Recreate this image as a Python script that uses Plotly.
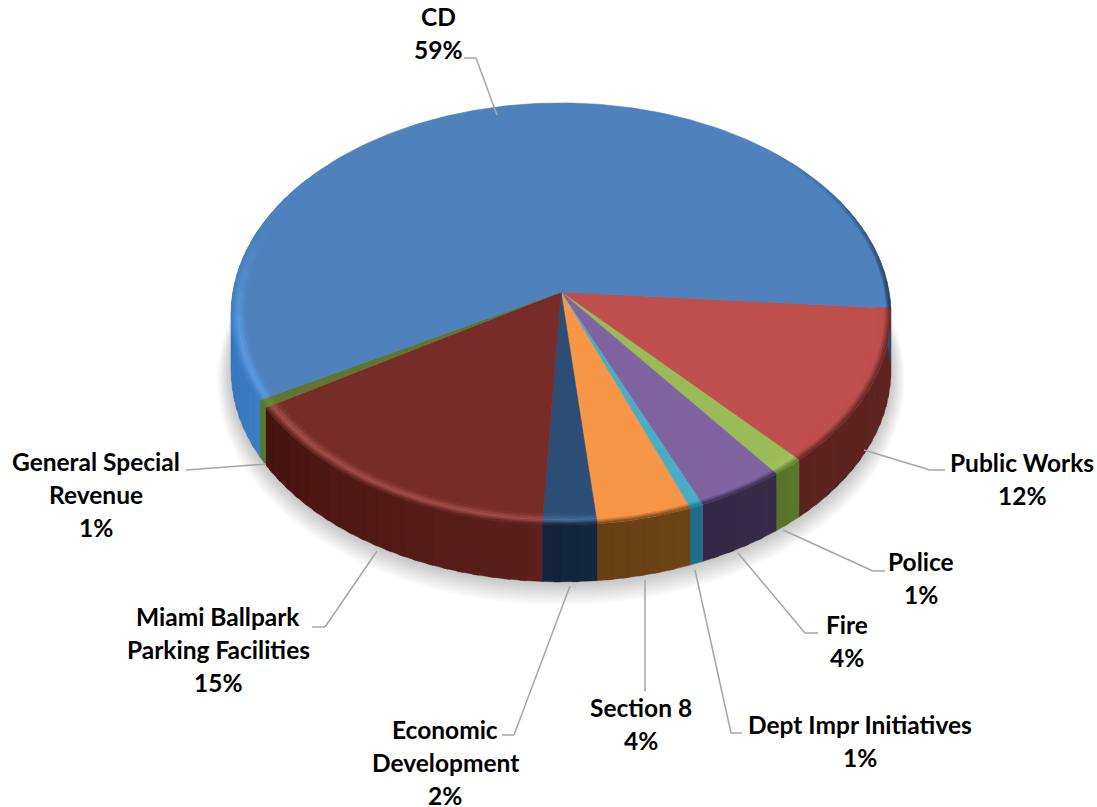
import math
import plotly.graph_objects as go

# ---- data ----
categories = ["Public Works", "Police", "Fire", "Dept Impr Initiatives", "Section 8",
              "Economic Development", "Miami Ballpark Parking Facilities",
              "General Special Revenue", "CD"]
values = [12.1, 1.4, 3.9, 0.6, 4.2, 2.4, 15.4, 0.6, 59.4]
label_lines = [["Public Works"], ["Police"], ["Fire"], ["Dept Impr Initiatives"], ["Section 8"],
               ["Economic", "Development"], ["Miami Ballpark", "Parking Facilities"],
               ["General Special", "Revenue"], ["CD"]]
start_angle = 4.4

# ---- styles ----
face = ["#C0504D", "#9BBB59", "#8064A2", "#4BACC6", "#F79646", "#2C4D75", "#772C2A", "#5F7530", "#4F81BD"]
wall_a = ["#602422", "#5C782B", "#382B48", "#1F6F88", "#6C4315", "#13263C", "#5C201D", "#557A2C", "#3B7CC4"]
wall_b = ["#5C2321", "#587329", "#352844", "#1F6F88", "#673F13", "#122438", "#461210", "#557A2C", "#2C4F78"]
rim = ["#BC4E4B", "#A3C25F", "#8064A2", "#4BACC6", "#F79646", "#4A6F9A", "#A5504D", "#6F8A3A", "#5B9BE0"]
label_pos = [(1022, 462), (921, 561), (847, 624), (860, 724), (641, 707),
             (445, 729), (218, 616), (96, 461), (438, 16)]
leaders = [
    [(864, 450), (930, 470), (945, 470)],
    [(783, 530), (873, 571), (885, 571)],
    [(738, 553), (805, 633), (818, 633)],
    [(695, 570), (731, 733), (742, 733)],
    [(645, 580), (645, 691)],
    [(570, 586), (514, 735), (502, 735)],
    [(377, 551), (325, 627), (312, 627)],
    [(266, 464), (186, 470)],
    [(497, 115), (476, 58), (464, 58)],
]
CX, CY, R, A, P, DEPTH = 561.0, 292.0, 328.0, 208.7, 0.104, 57.0
LINE = 33


def pt(t, r=1.0, dy=0.0, grow=0.0):
    c, s = math.cos(math.radians(t)), math.sin(math.radians(t))
    w = 1 - P * s
    return (CX + (R * r + grow) * c / w, CY + (A * r + grow) * s / w + dy)


def arc(t0, t1, **kw):
    n = max(2, int(abs(t1 - t0) / 1.0) + 1)
    return [pt(t0 + (t1 - t0) * i / (n - 1), **kw) for i in range(n)]


def rgb(h):
    return tuple(int(h[i:i + 2], 16) for i in (1, 3, 5))


def mix(a, b, f):
    ca, cb = rgb(a), rgb(b)
    return "#%02X%02X%02X" % tuple(round(x + (y - x) * f) for x, y in zip(ca, cb))


fig = go.Figure()


def poly(points, color, opacity=1.0, width=0.6):
    xs = [p[0] for p in points] + [points[0][0]]
    ys = [p[1] for p in points] + [points[0][1]]
    fig.add_trace(go.Scatter(x=xs, y=ys, mode="lines", fill="toself", fillcolor=color,
                             opacity=opacity, line=dict(color=color, width=width),
                             hoverinfo="skip", showlegend=False))


# slice angular spans from the values
total = sum(values)
spans = []
t = start_angle
for v in values:
    spans.append((t, t + v / total * 360))
    t = spans[-1][1]

# soft shadow under the disc
for g in range(14, 0, -1):
    poly(arc(0, 360, dy=DEPTH + g * 0.55, grow=g), "#000000", opacity=0.016, width=0)


def wall(t0, t1, c0, c1):
    step = 2.5
    n = max(1, int((t1 - t0) / step))
    for i in range(n):
        a0 = t0 + (t1 - t0) * i / n
        a1 = t0 + (t1 - t0) * (i + 1) / n
        col = mix(c0, c1, (i + 0.5) / n)
        # each piece runs a little under the next one so that no seam shows
        a2 = a1 if i == n - 1 else a1 + 1.0
        poly(arc(a0, a2) + arc(a2, a0, dy=DEPTH), col, width=0.4)


# side walls
for i, (t0, t1) in enumerate(spans):
    if categories[i] == "CD":
        wall(t0, 215, wall_a[i], mix(wall_a[i], wall_b[i], 0.35))
        wall(330, t1, wall_b[i], wall_b[i])
    else:
        wall(t0, t1, wall_a[i], wall_b[i])

# top faces
for i, (t0, t1) in enumerate(spans):
    poly([(CX, CY)] + arc(t0, t1), face[i])

# bevel along the rim
R_STOPS = [0.955, 0.965, 0.975, 0.982, 0.988, 0.993, 0.997, 1.0]


def bevel(i, a0, a1, fade=1.0, r_min=0.0, rim_col=None, wall_col=None):
    rc = rim_col or rim[i]
    wc = wall_col or wall_a[i]
    for k in range(len(R_STOPS) - 1):
        r0, r1 = R_STOPS[k], R_STOPS[k + 1]
        if r0 < r_min:
            continue
        m = (r0 + r1) / 2
        if m < 0.98:
            col = mix(face[i], rc, (m - 0.955) / 0.025)
        else:
            col = mix(rc, wc, (m - 0.98) / 0.02)
        poly(arc(a0, a1, r=r1) + arc(a1, a0, r=r0), mix(face[i], col, fade), width=0.4)


for i, (t0, t1) in enumerate(spans):
    if categories[i] != "CD":
        bevel(i, t0, t1)
        continue
    # highlight on the lower left, fading out up the rim
    bevel(i, t0, 168)
    a = 168.0
    while a < 198:
        bevel(i, a, a + 6, fade=1 - (a + 3 - 168) / 30)
        a += 6
    # dark thin edge on the right, fading in towards the red slice
    a = 315.0
    while a < t1:
        b = min(a + 7, t1)
        bevel(i, a, b, fade=(a + 3.5 - 315) / (t1 - 315), r_min=0.988,
              rim_col=face[i], wall_col="#1F3550")
        a = b

# leader lines
shapes = []
for path in leaders:
    for (x0, y0), (x1, y1) in zip(path, path[1:]):
        shapes.append(dict(type="line", xref="x", yref="y", x0=x0, y0=y0, x1=x1, y1=y1,
                           line=dict(color="#A6A6A6", width=1.5)))

# labels
annotations = []
for lines, v, (x, y) in zip(label_lines, values, label_pos):
    for j, txt in enumerate(lines + [f"{round(v)}%"]):
        annotations.append(dict(x=x, y=y + j * LINE, xref="x", yref="y", text=f"<b>{txt}</b>",
                                showarrow=False, xanchor="center", yanchor="middle",
                                font=dict(family="Lato, Carlito, sans-serif", size=24.5, color="#000000")))

fig.update_layout(
    width=1097, height=807, margin=dict(l=0, r=0, t=0, b=0),
    paper_bgcolor="#FFFFFF", plot_bgcolor="#FFFFFF", showlegend=False,
    xaxis=dict(range=[0, 1097], visible=False, fixedrange=True),
    yaxis=dict(range=[807, 0], visible=False, fixedrange=True),
    shapes=shapes, annotations=annotations,
)
fig.write_html("out.html", config=dict(displayModeBar=False),
               post_script="document.body.style.margin='0';document.documentElement.style.overflow='hidden';")
